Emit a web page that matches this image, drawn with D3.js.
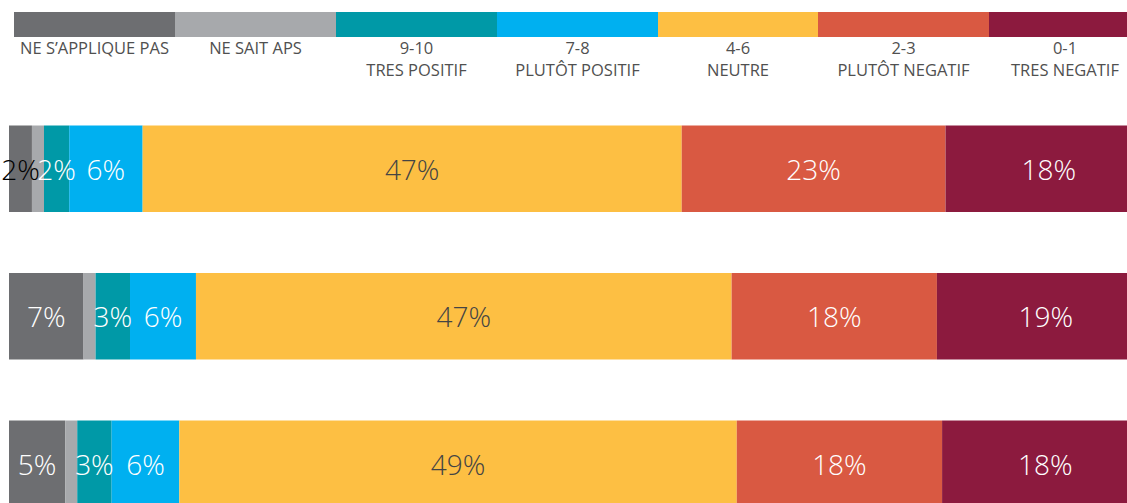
<!DOCTYPE html>
<html>
<head>
<meta charset="utf-8">
<script src="https://cdn.jsdelivr.net/npm/d3@7"></script>
<style>
    body { margin: 0; background: #fff; overflow: hidden; }
    svg { display: block; font-family: "Open Sans", "Noto Sans", sans-serif; }
    .legendText { font-size: 16.5px; fill: #505050; }
    .barLabel { font-size: 28px; font-weight: 300; }
</style>
</head>
<body>
<script>
(function(){

    //categories (legend order = stacking order)
    var categories = ["napp", "nsp", "c910", "c78", "c46", "c23", "c01"];
    var legendLine1 = ["NE S\u2019APPLIQUE PAS", "NE SAIT APS", "9-10", "7-8", "4-6", "2-3", "0-1"];
    var legendLine2 = ["", "", "TRES POSITIF", "PLUT\u00d4T POSITIF", "NEUTRE", "PLUT\u00d4T NEGATIF", "TRES NEGATIF"];
    var colors = ["#6d6e71", "#a7a9ac", "#0099a7", "#00b0f0", "#fdbf43", "#d95942", "#8c1a3e"];

    //series values (percent) for each bar
    var row1 = [2.0, 1.05, 2.2, 6.4, 47.0, 23.0, 18.0];
    var row2 = [6.5, 1.05, 3.0, 5.75, 46.7, 17.9, 19.0];
    var row3 = [4.9, 1.05, 3.0, 5.9, 48.6, 17.9, 18.0];
    //printed labels
    var labels1 = ["2%", "", "2%", "6%", "47%", "23%", "18%"];
    var labels2 = ["7%", "", "3%", "6%", "47%", "18%", "19%"];
    var labels3 = ["5%", "", "3%", "6%", "49%", "18%", "18%"];

    var rows = [row1, row2, row3];
    var rowLabels = [labels1, labels2, labels3];

    window.onload = function(){
        draw();
    };

    function draw(){
        var width = 1127,
            height = 503;

        var svg = d3.select("body")
            .append("svg")
            .attr("width", width)
            .attr("height", height);

        //legend band edges (layout)
        var legendEdges = [14, 175, 336, 497, 658, 818, 989, 1141];

        var legend = svg.append("g").attr("class", "legend");

        legend.selectAll(".legendRect")
            .data(categories)
            .enter()
            .append("rect")
            .attr("class", "legendRect")
            .attr("x", function(d, i){ return legendEdges[i]; })
            .attr("y", 12)
            .attr("width", function(d, i){ return legendEdges[i + 1] - legendEdges[i]; })
            .attr("height", 25)
            .style("fill", function(d, i){ return colors[i]; });

        var legendText = legend.selectAll(".legendText")
            .data(categories)
            .enter()
            .append("text")
            .attr("class", "legendText")
            .attr("text-anchor", "middle")
            .attr("x", function(d, i){ return (legendEdges[i] + legendEdges[i + 1]) / 2; });

        legendText.append("tspan")
            .attr("x", function(d, i){ return (legendEdges[i] + legendEdges[i + 1]) / 2; })
            .attr("y", 54)
            .text(function(d, i){ return legendLine1[i]; });

        legendText.append("tspan")
            .attr("x", function(d, i){ return (legendEdges[i] + legendEdges[i + 1]) / 2; })
            .attr("y", 76)
            .text(function(d, i){ return legendLine2[i]; });

        //scales
        var xScale = d3.scaleLinear()
            .domain([0, 100])
            .range([9, 1156]);

        var yScale = d3.scaleBand()
            .domain(d3.range(rows.length))
            .range([125.5, 507])
            .paddingInner(0.4136)
            .paddingOuter(0);

        //stack rows into segments
        var segments = [];
        rows.forEach(function(row, r){
            var x0 = 0;
            row.forEach(function(v, i){
                segments.push({ row: r, cat: i, x0: x0, x1: x0 + v, label: rowLabels[r][i] });
                x0 += v;
            });
        });

        svg.selectAll(".seg")
            .data(segments)
            .enter()
            .append("rect")
            .attr("class", "seg")
            .attr("x", function(d){ return xScale(d.x0); })
            .attr("y", function(d){ return yScale(d.row); })
            .attr("width", function(d){ return xScale(d.x1) - xScale(d.x0); })
            .attr("height", yScale.bandwidth())
            .style("fill", function(d){ return colors[d.cat]; });

        svg.selectAll(".barLabel")
            .data(segments.filter(function(d){ return d.label; }))
            .enter()
            .append("text")
            .attr("class", "barLabel")
            .attr("text-anchor", "middle")
            .attr("x", function(d){ return (xScale(d.x0) + xScale(d.x1)) / 2; })
            .attr("y", function(d){ return yScale(d.row) + yScale.bandwidth() / 2 + 11; })
            .style("fill", function(d){
                if (d.cat == 4) return "#444";
                //first segment too narrow for its label
                if (d.cat == 0 && xScale(d.x1) - xScale(d.x0) < 30) return "#000";
                return "#fff";
            })
            .text(function(d){ return d.label; });
    };

})();
</script>
</body>
</html>
